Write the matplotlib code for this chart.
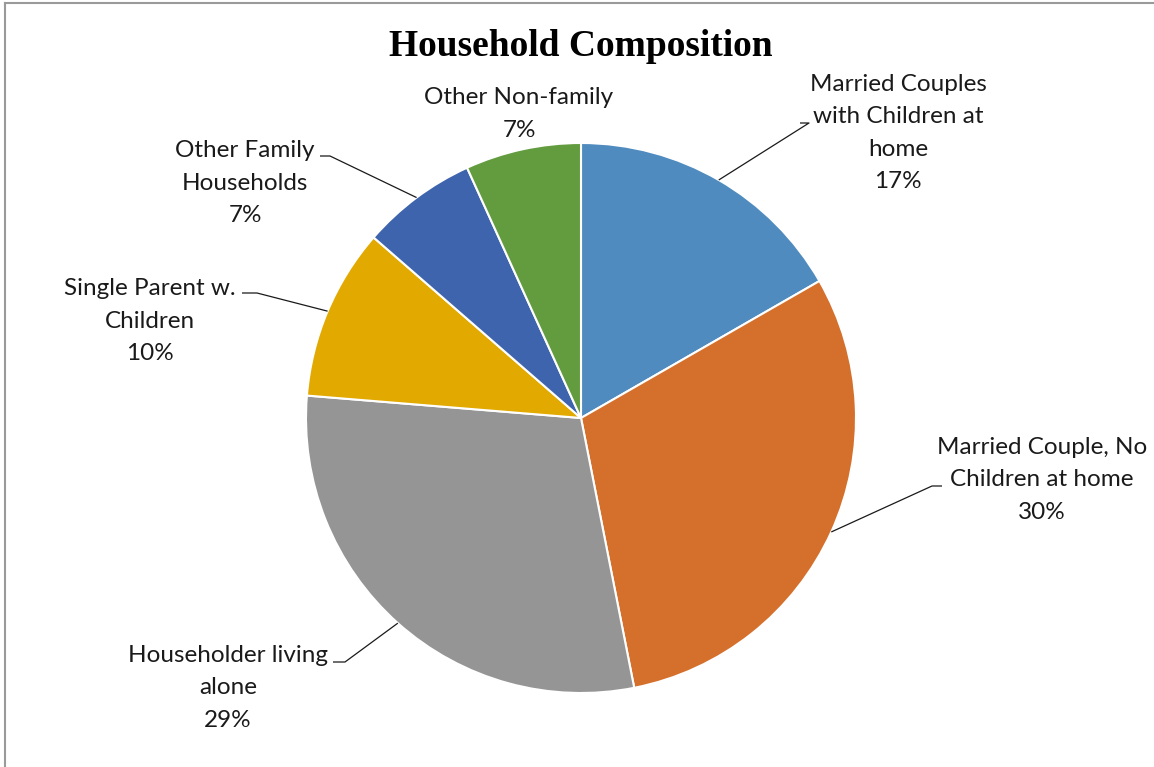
import numpy as np
import matplotlib
matplotlib.use("Agg")
import matplotlib.pyplot as plt
from matplotlib.lines import Line2D

# Household composition shares (percent)
categories = [
    "Married Couples\nwith Children at\nhome",
    "Married Couple, No\nChildren at home",
    "Householder living\nalone",
    "Single Parent w.\nChildren",
    "Other Family\nHouseholds",
    "Other Non-family",
]
shares = [16.7, 30.2, 29.4, 10.1, 6.8, 6.8]
colors = ["#4f8bbe", "#d4702c", "#959595", "#e2a900", "#3e64ad", "#629c3e"]

W, H = 1154, 767
fig = plt.figure(figsize=(W / 100, H / 100), dpi=100)
ax = fig.add_axes([0, 0, 1, 1])

cx, cy, r = 581, H - 418, 275
wedges, _ = ax.pie(
    shares, colors=colors, startangle=90, counterclock=False,
    center=(cx, cy), radius=r, frame=True,
    wedgeprops=dict(edgecolor="white", linewidth=1.5),
)
ax.set_xlim(0, W)
ax.set_ylim(0, H)
ax.set_aspect("equal")
ax.axis("off")

label_font = dict(family=["Lato", "DejaVu Sans"], fontsize=17.5, color="#1a1a1a",
                  ha="center", va="center", linespacing=1.68)

# (text centre, elbow point, elbow end) in pixel coordinates measured from the top
layout = [
    ((898, 133), (800, 123), (809, 123)),
    ((1042, 480), (942, 486), (932, 486)),
    ((228, 688), (333, 662), (345, 662)),
    ((150, 321), (242, 293), (257, 293)),
    ((245, 183), (320, 156), (330, 156)),
    ((519, 114), None, None),
]

for w, name, val, (tpos, e1, e2) in zip(wedges, categories, shares, layout):
    txt = f"{name}\n{val:.0f}%"
    ax.text(tpos[0], H - tpos[1], txt, **label_font)
    if e1 is None:
        continue
    mid = np.deg2rad((w.theta1 + w.theta2) / 2)
    px, py = cx + r * np.cos(mid), cy + r * np.sin(mid)
    # leader: wedge edge -> elbow end -> short horizontal stub
    ax.plot([px, e2[0], e1[0]], [py, H - e2[1], H - e1[1]],
            color="#1a1a1a", lw=0.9, solid_capstyle="butt")

ax.text(581, H - 47, "Household Composition",
        family=["Liberation Serif", "DejaVu Serif"], fontweight="bold",
        fontsize=27, ha="center", va="center", color="black")

# chart-area frame visible on the top and left edges
fig.add_artist(Line2D([5 / W, 1], [1 - 3 / H, 1 - 3 / H], transform=fig.transFigure,
                      color="#9a9a9a", lw=1.5))
fig.add_artist(Line2D([5 / W, 5 / W], [0, 1 - 3 / H], transform=fig.transFigure,
                      color="#9a9a9a", lw=1.5))

fig.savefig("out.png", dpi=100, facecolor="white")
